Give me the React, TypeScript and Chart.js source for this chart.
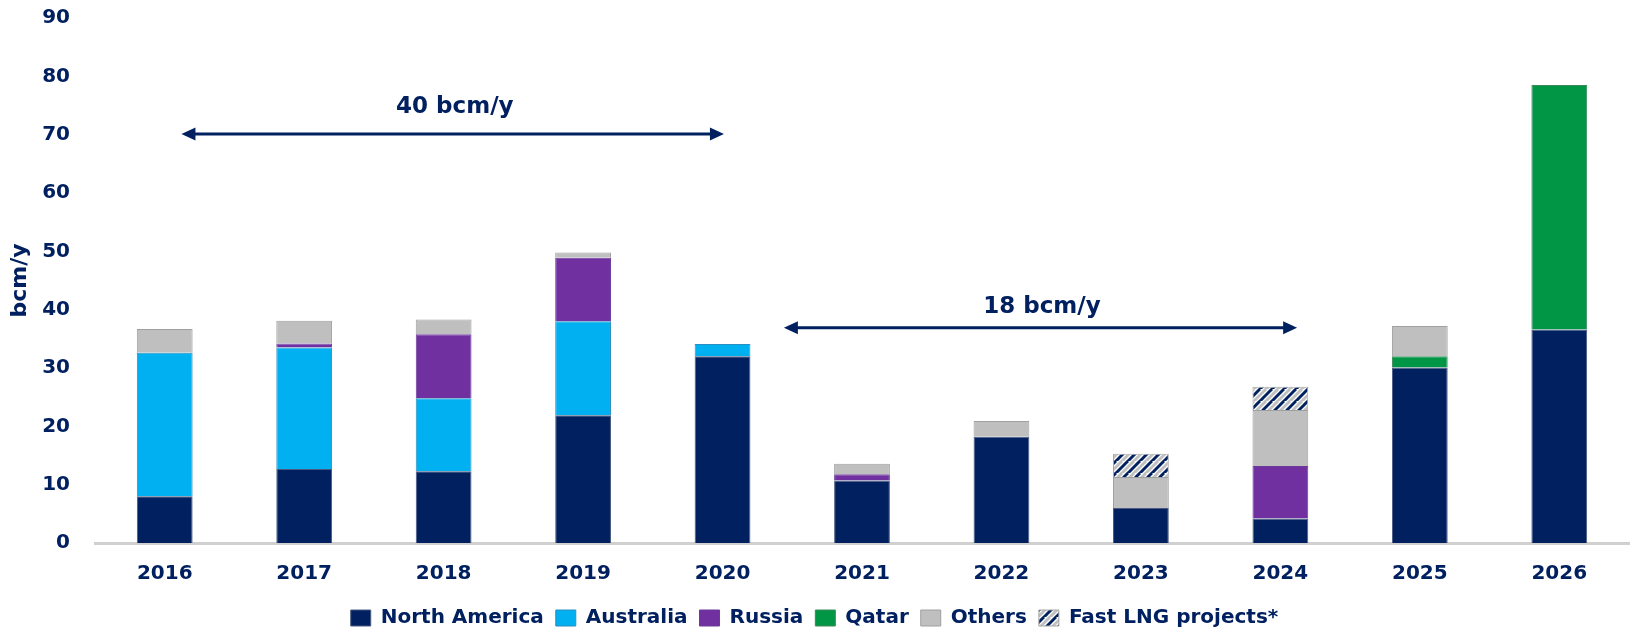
import React, { useEffect, useRef } from "react";
import { Chart, registerables } from "chart.js";

Chart.register(...registerables);

const years = ["2016", "2017", "2018", "2019", "2020", "2021", "2022", "2023", "2024", "2025", "2026"];
const northAmerica = [8.0, 12.7, 12.3, 21.9, 32.0, 10.7, 18.2, 6.0, 4.2, 30.1, 36.6];
const australia = [24.6, 20.8, 12.5, 16.1, 2.1, null, null, null, null, null, null];
const russia = [null, 0.7, 11.0, 10.9, null, 1.1, null, null, 9.0, null, null];
const qatar = [null, null, null, null, null, null, null, null, null, 1.9, 41.9];
const others = [4.1, 3.9, 2.5, 0.9, null, 1.8, 2.7, 5.3, 9.6, 5.2, null];
const fastLng = [null, null, null, null, null, null, null, 4.0, 4.0, null, null];

const NAVY = "#002060";
const FONT = "'DejaVu Sans'";

function makeHatch(): CanvasPattern | string {
  const c = document.createElement("canvas");
  c.width = 12;
  c.height = 12;
  const g = c.getContext("2d");
  if (!g) return "#ffffff";
  g.fillStyle = "#ffffff";
  g.fillRect(0, 0, 12, 12);
  g.lineWidth = 3;
  const stripe = (off: number, col: string) => {
    g.strokeStyle = col;
    for (let k = -2; k <= 2; k++) {
      g.beginPath();
      g.moveTo(off + k * 12 - 12, 24);
      g.lineTo(off + k * 12 + 12, 0);
      g.stroke();
    }
  };
  stripe(0, NAVY);
  stripe(6, "#c0c0c0");
  const p = g.createPattern(c, "repeat");
  return p || "#ffffff";
}

const arrowsPlugin = {
  id: "arrows",
  afterDatasetsDraw(chart: any) {
    const ctx = chart.ctx;
    const xs = chart.scales.x;
    const ys = chart.scales.y;
    const items = [
      { from: 0.12, to: 4.01, y: 70.1, label: "40 bcm/y", ly: 74.7, lx: 2.08 },
      { from: 4.44, to: 8.12, y: 36.9, label: "18 bcm/y", ly: 40.4, lx: 6.29 },
    ];
    const pos = (v: number) => xs.getPixelForValue(0) + v * (xs.getPixelForValue(1) - xs.getPixelForValue(0));
    ctx.save();
    for (const it of items) {
      const x1 = pos(it.from);
      const x2 = pos(it.to);
      const y = ys.getPixelForValue(it.y);
      const hl = 14;
      const hw = 6.5;
      ctx.strokeStyle = NAVY;
      ctx.fillStyle = NAVY;
      ctx.lineWidth = 3;
      ctx.beginPath();
      ctx.moveTo(x1 + hl - 2, y);
      ctx.lineTo(x2 - hl + 2, y);
      ctx.stroke();
      ctx.beginPath();
      ctx.moveTo(x1, y);
      ctx.lineTo(x1 + hl, y - hw);
      ctx.lineTo(x1 + hl, y + hw);
      ctx.closePath();
      ctx.fill();
      ctx.beginPath();
      ctx.moveTo(x2, y);
      ctx.lineTo(x2 - hl, y - hw);
      ctx.lineTo(x2 - hl, y + hw);
      ctx.closePath();
      ctx.fill();
      ctx.font = `bold 23px ${FONT}`;
      ctx.textAlign = "center";
      ctx.textBaseline = "middle";
      ctx.fillText(it.label, pos(it.lx), ys.getPixelForValue(it.ly));
    }
    ctx.restore();
  },
};

export default function App() {
  const ref = useRef<HTMLCanvasElement>(null);
  useEffect(() => {
    if (!ref.current) return;
    const hatch = makeHatch();
    const mk = (label: string, data: (number | null)[], bg: any, border: string) => ({
      label,
      data,
      backgroundColor: bg,
      borderColor: border,
      borderWidth: 1,
      categoryPercentage: 1,
      barPercentage: 0.4,
    });
    const chart = new Chart(ref.current, {
      type: "bar",
      data: {
        labels: years,
        datasets: [
          mk("North America", northAmerica, NAVY, "#4a5a80"),
          mk("Australia", australia, "#00B0F0", "#2a8fc0"),
          mk("Russia", russia, "#7030A0", "#6a3a98"),
          mk("Qatar", qatar, "#009646", "#3c8a5a"),
          mk("Others", others, "#BFBFBF", "#a0a0a0"),
          mk("Fast LNG projects*", fastLng, hatch, "#a6a6a6"),
        ] as any,
      },
      options: {
        animation: false,
        responsive: false,
        devicePixelRatio: 1,
        layout: { padding: { top: 2, right: 4, left: 0, bottom: 0 } },
        plugins: {
          tooltip: { enabled: false },
          legend: {
            position: "bottom",
            labels: {
              boxWidth: 20,
              boxHeight: 16,
              color: NAVY,
              padding: 12,
              font: { family: FONT, weight: "bold", size: 20, lineHeight: 1 },
            },
          },
        },
        scales: {
          x: {
            stacked: true,
            grid: { display: false, drawTicks: false },
            border: { display: true, color: "#D0D0D0", width: 3 },
            ticks: {
              color: NAVY,
              padding: 19,
              font: { family: FONT, weight: "bold", size: 20 },
            },
            afterFit: (scale: any) => {
              scale.height = 53;
            },
          },
          y: {
            stacked: true,
            min: 0,
            max: 90,
            grid: { display: false, drawTicks: false },
            border: { display: false },
            ticks: {
              stepSize: 10,
              color: NAVY,
              padding: 25,
              font: { family: FONT, weight: "bold", size: 20 },
            },
            title: {
              display: true,
              text: "bcm/y",
              color: NAVY,
              padding: { top: 7, bottom: 0 },
              font: { family: FONT, weight: "bold", size: 22 },
            },
            afterFit: (scale: any) => {
              scale.width = 95;
            },
          },
        },
      },
      plugins: [arrowsPlugin],
    });
    return () => chart.destroy();
  }, []);
  return (
    <div style={{ position: "fixed", left: 0, top: 0, width: 1633, height: 628, background: "#fff", overflow: "hidden" }}>
      <canvas
        ref={ref}
        width={1633}
        height={657}
        style={{ position: "absolute", left: 0, top: -19, width: 1633, height: 657 }}
      />
    </div>
  );
}
